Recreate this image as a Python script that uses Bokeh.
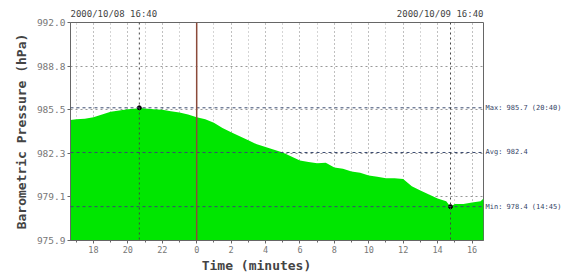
from bokeh.plotting import figure
from bokeh.models import Range1d, FixedTicker, Span, LinearAxis
from bokeh.embed import file_html
from bokeh.resources import INLINE

# hours since 00:00 of 2000/10/08 (values > 24 are on 2000/10/09)
hours = [16.667, 17.0, 17.5, 18.0, 18.5, 19.0, 19.5, 20.0, 20.5, 20.667, 21.0, 21.5,
         22.0, 22.5, 23.0, 23.5, 24.0, 24.5, 25.0, 25.5, 26.0, 26.5, 27.0, 27.5,
         28.0, 28.5, 29.0, 29.5, 30.0, 30.5, 31.0, 31.5, 32.0, 32.5, 33.0, 33.5,
         34.0, 34.5, 35.0, 35.5, 36.0, 36.5, 37.0, 37.5, 38.0, 38.5, 38.75, 39.0,
         39.5, 40.0, 40.5, 40.667]
pressure = [984.8, 984.85, 984.9, 985.0, 985.2, 985.4, 985.5, 985.6, 985.65, 985.7, 985.65, 985.6,
            985.55, 985.45, 985.35, 985.2, 985.0, 984.85, 984.6, 984.2, 983.9, 983.6, 983.3, 983.0,
            982.8, 982.6, 982.4, 982.1, 981.8, 981.7, 981.6, 981.65, 981.3, 981.2, 981.0, 980.9,
            980.7, 980.6, 980.5, 980.5, 980.45, 979.9, 979.6, 979.3, 979.0, 978.8, 978.4, 978.6,
            978.6, 978.7, 978.8, 979.0]

x_tick_values = [18, 20, 22, 24, 26, 28, 30, 32, 34, 36, 38, 40]
x_tick_labels = ["18", "20", "22", "0", "2", "4", "6", "8", "10", "12", "14", "16"]
x_minor_values = list(range(17, 41))
y_tick_values = [975.9, 979.12, 982.34, 985.56, 988.78, 992.0]
y_tick_labels = ["975.9", "979.1", "982.3", "985.5", "988.8", "992.0"]

x_start, x_end = 16.667, 40.667
y_start, y_end = 975.9, 992.0
max_val, max_time, max_text = 985.7, 20.667, "Max: 985.7 (20:40)"
min_val, min_time, min_text = 978.4, 38.75, "Min: 978.4 (14:45)"
avg_val, avg_text = 982.4, "Avg: 982.4"
start_text, end_text = "2000/10/08 16:40", "2000/10/09 16:40"
x_title = "Time (minutes)"
y_title = "Barometric Pressure (hPa)"
midnight = 24.0

MONO = "DejaVu Sans Mono"
PX_PER_HOUR = 413 / 24.0

p = figure(width=564, height=276, output_backend="svg", toolbar_location=None,
           x_range=Range1d(x_start, x_end), y_range=Range1d(y_start, y_end),
           min_border_left=70, min_border_right=81, min_border_top=22, min_border_bottom=36)
p.background_fill_color = "white"
p.border_fill_color = "white"
p.outline_line_color = "#666666"

# area
p.varea(x=hours, y1=y_start, y2=pressure, fill_color="#00e600")

# main axes
p.xaxis.ticker = FixedTicker(ticks=x_tick_values, minor_ticks=x_minor_values)
p.xaxis.major_label_overrides = {v: l for v, l in zip(x_tick_values, x_tick_labels)}
p.yaxis.ticker = FixedTicker(ticks=y_tick_values, minor_ticks=[])
p.yaxis.major_label_overrides = {v: l for v, l in zip(y_tick_values, y_tick_labels)}
for ax in (p.xaxis[0], p.yaxis[0]):
    ax.axis_line_color = "#666666"
    ax.major_tick_line_color = "#666666"
    ax.minor_tick_line_color = "#666666"
    ax.major_tick_in = 0
    ax.major_tick_out = 3
    ax.minor_tick_in = 0
    ax.minor_tick_out = 2
    ax.major_label_text_font = MONO
    ax.major_label_text_color = "#777777"
    ax.major_label_standoff = 2
p.xaxis.major_label_text_font_size = "8.5px"
p.yaxis.major_label_text_font_size = "9.5px"
p.yaxis.axis_label = y_title
p.yaxis.axis_label_text_font = MONO
p.yaxis.axis_label_text_font_size = "13px"
p.yaxis.axis_label_text_font_style = "bold"
p.yaxis.axis_label_text_color = "#444444"
p.yaxis.axis_label_standoff = 5


def text_axis(ticks, labels, size, color, bold=False, standoff=2):
    ax = LinearAxis(ticker=FixedTicker(ticks=ticks, minor_ticks=[]),
                    major_label_overrides={t: l for t, l in zip(ticks, labels)})
    ax.axis_line_color = None
    ax.major_tick_line_color = None
    ax.minor_tick_line_color = None
    ax.major_tick_out = 0
    ax.major_tick_in = 0
    ax.major_label_standoff = standoff
    ax.major_label_text_font = MONO
    ax.major_label_text_font_size = size
    ax.major_label_text_color = color
    if bold:
        ax.major_label_text_font_style = "bold"
    return ax


# x title, centered where the reference has it
title_pos = x_start + (256 - 70) / PX_PER_HOUR
p.add_layout(text_axis([title_pos], [x_title], "13px", "#444444", bold=True, standoff=2), "below")

# date stamps above the frame (tick position = centre of the text)
half_w = 16 * 9 * 0.602 / 2 / PX_PER_HOUR
p.add_layout(text_axis([x_start + half_w, x_end - half_w], [start_text, end_text],
                       "9px", "#444444", standoff=4), "above")

# max / avg / min labels on the right
right_ax = text_axis([max_val, avg_val, min_val], [max_text, avg_text, min_text],
                     "7px", "#334466", standoff=2)
right_ax.major_label_text_align = "left"
p.add_layout(right_ax, "right")

# grid
p.xgrid.grid_line_color = "#aaaaaa"
p.xgrid.grid_line_dash = "1 3"
p.xgrid.minor_grid_line_color = "#aaaaaa"
p.xgrid.minor_grid_line_dash = "1 3"
p.ygrid.grid_line_color = "#999999"
p.ygrid.grid_line_dash = "2 3"

# reference lines
for v in (max_val, avg_val, min_val):
    p.add_layout(Span(location=v, dimension="width", line_color="#3a4a70",
                      line_dash="3 3", line_width=1))
for t in (max_time, min_time):
    p.add_layout(Span(location=t, dimension="height", line_color="#444444",
                      line_dash="2 3", line_width=1))
p.add_layout(Span(location=midnight, dimension="height", line_color="#8b4a3a", line_width=1.5))

p.scatter([max_time, min_time], [max_val, min_val], size=4, color="black")

open("out.html", "w").write(file_html(p, INLINE))
